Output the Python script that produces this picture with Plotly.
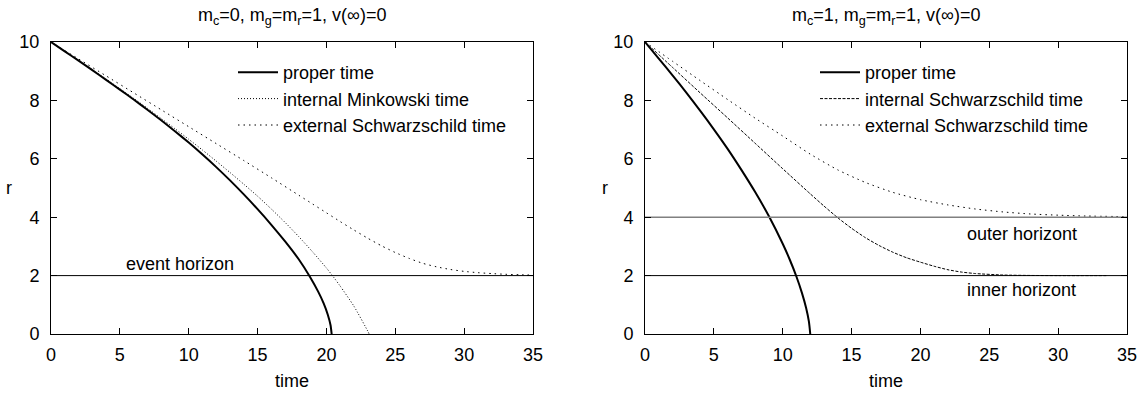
import plotly.graph_objects as go

# ---------------- data ----------------
time_range = [0, 35]
r_range = [0, 10]
x_ticks = [0, 5, 10, 15, 20, 25, 30, 35]
y_ticks = [0, 2, 4, 6, 8, 10]

# left panel: m_c=0
proper_t_L = [0, 1, 2, 3, 4, 5, 6, 7, 8, 9, 10, 11, 12, 13, 14, 15, 16, 17, 18,
              18.8, 19.4, 19.8, 20.1, 20.3, 20.38]
proper_r_L = [10, 9.68, 9.36, 9.035, 8.705, 8.37, 8.03, 7.68, 7.32, 6.945, 6.555, 6.145, 5.715,
              5.26, 4.78, 4.275, 3.74, 3.17, 2.55, 1.96, 1.45, 1.05, 0.66, 0.3, 0]

mink_t_L = [0, 1, 2, 3, 4, 5, 6, 7, 8, 9, 10, 11, 12, 13, 14, 15, 16, 17, 18, 19, 20,
            20.5, 21, 22, 23, 23.1]
mink_r_L = [10, 9.685, 9.37, 9.05, 8.73, 8.4, 8.07, 7.73, 7.38, 7.03, 6.67, 6.3, 5.92, 5.53,
            5.13, 4.72, 4.28, 3.82, 3.33, 2.81, 2.26, 1.96, 1.64, 0.95, 0.1, 0]

ext_t_L = [0, 2, 4, 6, 8, 10, 12, 14, 16, 18, 19, 20, 21, 22, 23, 24, 25, 26, 27, 28, 29,
           30, 31, 32, 33, 34, 35]
ext_r_L = [10, 9.42, 8.84, 8.26, 7.68, 7.1, 6.52, 5.94, 5.35, 4.75, 4.45, 4.15, 3.85, 3.56,
           3.28, 3.02, 2.79, 2.59, 2.42, 2.3, 2.21, 2.145, 2.1, 2.07, 2.045, 2.03, 2.02]

event_horizon_r = 2.0

# right panel: m_c=1
proper_t_R = [0, 1, 2, 3, 4, 5, 6, 7, 8, 9, 10, 10.5, 11, 11.4, 11.7, 11.9, 12.0]
proper_r_R = [10, 9.43, 8.86, 8.27, 7.65, 7.01, 6.34, 5.62, 4.86, 4.03, 3.09, 2.56, 1.96,
              1.40, 0.89, 0.43, 0]

int_t_R = [0, 2, 4, 6, 8, 10, 12, 13, 14, 15, 16, 17, 18, 19, 20, 21, 22, 23, 24, 26, 28,
           30, 33.5]
int_r_R = [10, 9.13, 8.26, 7.4, 6.53, 5.66, 4.8, 4.38, 3.98, 3.62, 3.3, 3.03, 2.8, 2.61,
           2.46, 2.32, 2.2, 2.12, 2.07, 2.02, 2.005, 2.0, 2.0]

ext_t_R = [0, 2, 4, 6, 8, 10, 12, 14, 16, 18, 20, 22, 24, 26, 28, 30, 32, 35]
ext_r_R = [10, 9.34, 8.68, 8.03, 7.39, 6.78, 6.16, 5.62, 5.19, 4.85, 4.6, 4.42, 4.28, 4.18,
           4.11, 4.07, 4.04, 4.02]

outer_horizon_r = 4.0
inner_horizon_r = 2.0

titles = ["m<sub>c</sub>=0, m<sub>g</sub>=m<sub>r</sub>=1, v(∞)=0",
          "m<sub>c</sub>=1, m<sub>g</sub>=m<sub>r</sub>=1, v(∞)=0"]

# ---------------- figure ----------------
W, H = 1147, 396
FONT = "Liberation Sans, Arial, sans-serif"
FS = 18


def px_x(p):
    return p / W


def px_y(p):
    return 1 - p / H


fig = go.Figure()


def add_line(x, y, xa, ya, name, dash, width, legend, color="black"):
    fig.add_trace(go.Scatter(
        x=x, y=y, mode="lines", name=name, xaxis=xa, yaxis=ya,
        line=dict(color=color, width=width, dash=dash, shape="spline", smoothing=0.6),
        legend=legend))


# left
add_line(proper_t_L, proper_r_L, "x", "y", "proper time", "solid", 2, "legend")
add_line(mink_t_L, mink_r_L, "x", "y", "internal Minkowski time", "1px,2px", 1, "legend")
add_line(ext_t_L, ext_r_L, "x", "y", "external Schwarzschild time", "1.5px,4px", 1, "legend")
fig.add_trace(go.Scatter(x=time_range, y=[event_horizon_r] * 2, mode="lines", xaxis="x", yaxis="y",
                         line=dict(color="black", width=1), showlegend=False, hoverinfo="skip"))

# right
add_line(proper_t_R, proper_r_R, "x2", "y2", "proper time", "solid", 2, "legend2")
add_line(int_t_R, int_r_R, "x2", "y2", "internal Schwarzschild time", "3px,1.5px", 1, "legend2")
add_line(ext_t_R, ext_r_R, "x2", "y2", "external Schwarzschild time", "1.5px,4px", 1, "legend2")
fig.add_trace(go.Scatter(x=time_range, y=[outer_horizon_r] * 2, mode="lines", xaxis="x2", yaxis="y2",
                         line=dict(color="#808080", width=1.5), showlegend=False, hoverinfo="skip"))
fig.add_trace(go.Scatter(x=time_range, y=[inner_horizon_r] * 2, mode="lines", xaxis="x2", yaxis="y2",
                         line=dict(color="black", width=1), showlegend=False, hoverinfo="skip"))

axis_common = dict(showline=True, linecolor="black", linewidth=1, mirror="allticks",
                   ticks="inside", ticklen=6, tickwidth=1, tickcolor="black",
                   showgrid=False, zeroline=False, automargin=False,
                   tickfont=dict(family=FONT, size=FS, color="black"))

xdom_L = [px_x(51), px_x(533)]
xdom_R = [px_x(645), px_x(1127)]
ydom = [px_y(334), px_y(42)]

legend_common = dict(xanchor="left", yanchor="top", bgcolor="rgba(0,0,0,0)",
                     font=dict(family=FONT, size=FS), itemwidth=40, tracegroupgap=0)

fig.update_layout(
    width=W, height=H,
    margin=dict(l=0, r=0, t=0, b=0, autoexpand=False),
    paper_bgcolor="white", plot_bgcolor="white",
    font=dict(family=FONT, size=FS, color="black"),
    xaxis=dict(domain=xdom_L, range=time_range, tickvals=x_ticks, anchor="y",
               title=dict(text="time", standoff=10, font=dict(size=FS)), ticklabelstandoff=4, **axis_common),
    yaxis=dict(domain=ydom, range=r_range, tickvals=y_ticks, anchor="x",
               ticklabelstandoff=7, **axis_common),
    xaxis2=dict(domain=xdom_R, range=time_range, tickvals=x_ticks, anchor="y2",
                title=dict(text="time", standoff=10, font=dict(size=FS)), ticklabelstandoff=4, **axis_common),
    yaxis2=dict(domain=ydom, range=r_range, tickvals=y_ticks, anchor="x2",
                ticklabelstandoff=7, **axis_common),
    legend=dict(x=px_x(233), y=px_y(54), **legend_common),
    legend2=dict(x=px_x(815), y=px_y(54), **legend_common),
    annotations=[
        dict(text=titles[0], x=px_x(292), y=px_y(16), xref="paper", yref="paper",
             showarrow=False, xanchor="center", yanchor="middle", font=dict(size=FS)),
        dict(text=titles[1], x=px_x(886), y=px_y(16), xref="paper", yref="paper",
             showarrow=False, xanchor="center", yanchor="middle", font=dict(size=FS)),
        dict(text="r", x=px_x(9), y=px_y(188), xref="paper", yref="paper",
             showarrow=False, xanchor="center", yanchor="middle", font=dict(size=FS)),
        dict(text="r", x=px_x(605), y=px_y(188), xref="paper", yref="paper",
             showarrow=False, xanchor="center", yanchor="middle", font=dict(size=FS)),
        dict(text="event horizon", x=9.4, y=event_horizon_r, xref="x", yref="y",
             showarrow=False, xanchor="center", yanchor="bottom", font=dict(size=FS)),
        dict(text="outer horizont", x=27.36, y=outer_horizon_r, xref="x2", yref="y2",
             showarrow=False, xanchor="center", yanchor="top", yshift=-5, font=dict(size=FS)),
        dict(text="inner horizont", x=27.36, y=inner_horizon_r, xref="x2", yref="y2",
             showarrow=False, xanchor="center", yanchor="top", yshift=-2, font=dict(size=FS)),
    ],
)

fig.write_html("out.html")
